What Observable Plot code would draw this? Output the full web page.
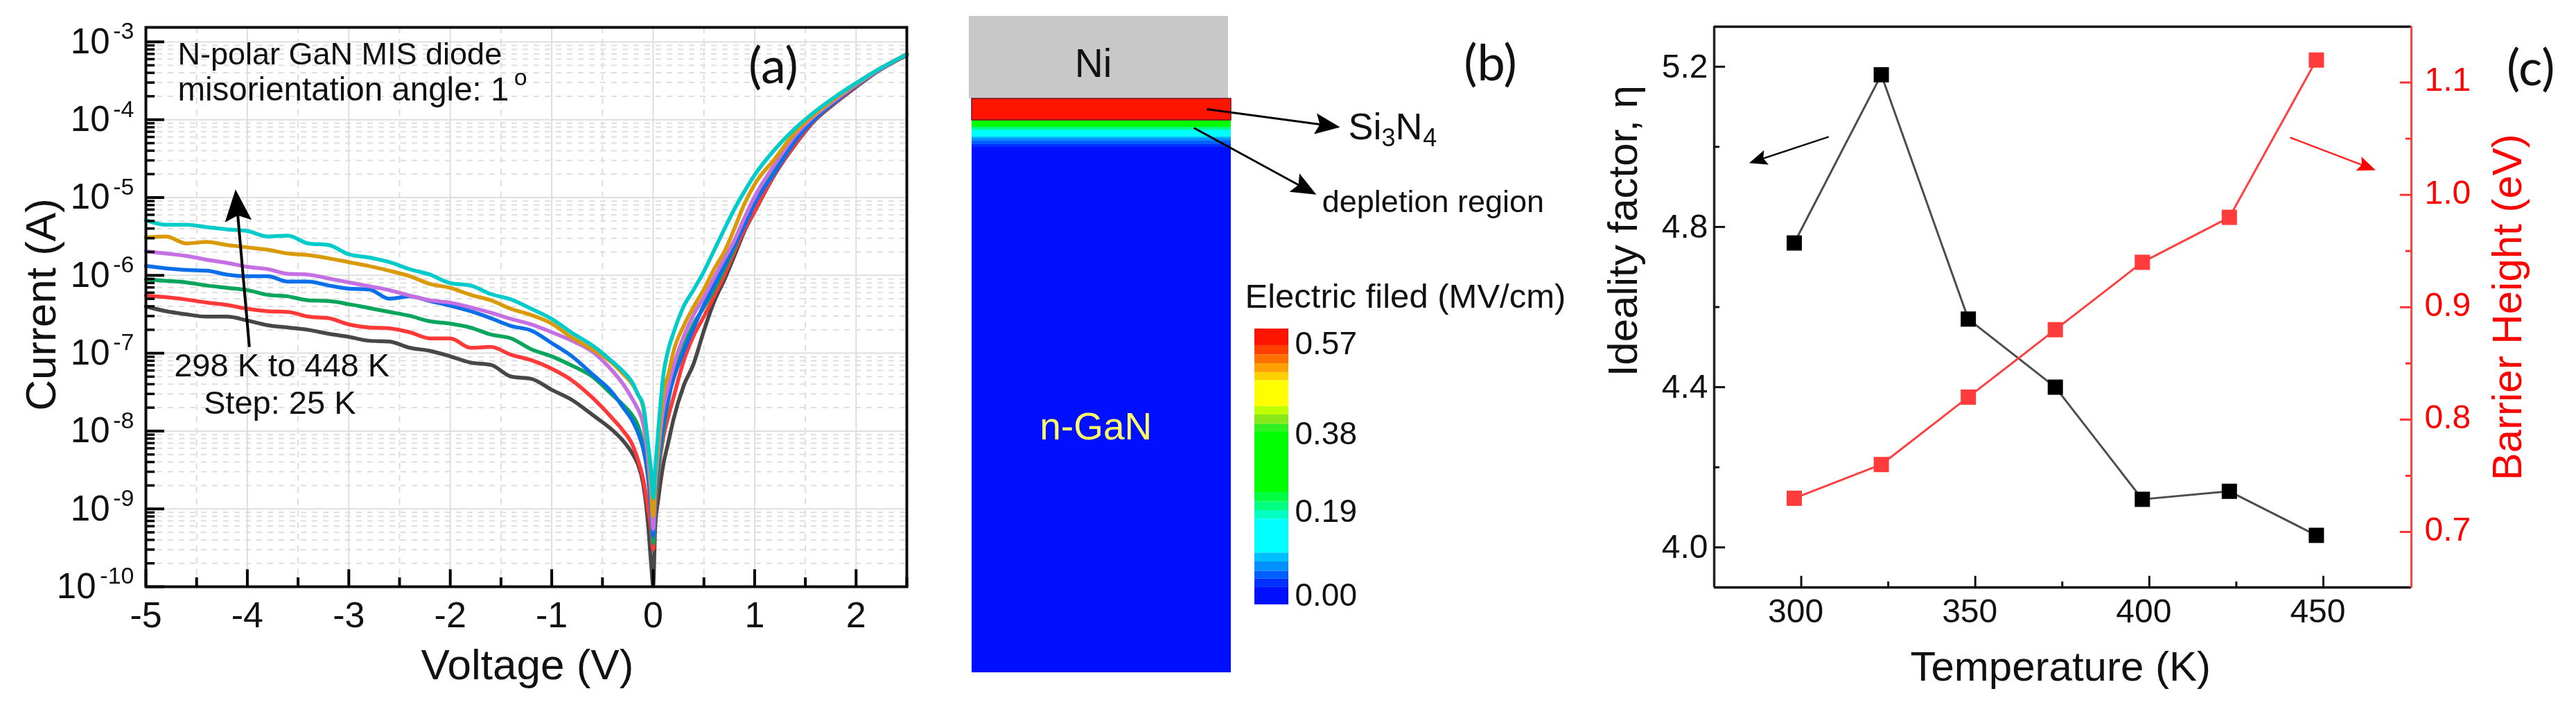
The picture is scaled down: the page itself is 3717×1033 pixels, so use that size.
<!DOCTYPE html>
<html><head><meta charset="utf-8">
<script src="https://cdn.jsdelivr.net/npm/d3@7"></script>
<script src="https://cdn.jsdelivr.net/npm/@observablehq/plot@0.6"></script>
<style>html,body{margin:0;background:#fff}#page{position:relative;width:3717px;height:1033px;overflow:hidden;background:#fff}</style>
</head><body><div id="page"></div>
<script>
// ---------- (a) I-V curves: voltage (V) and log10 of current (A)
const voltage = [-5,-4.8,-4.6,-4.4,-4.2,-4,-3.8,-3.6,-3.4,-3.2,-3,-2.8,-2.6,-2.4,-2.2,-2,-1.8,-1.6,-1.4,-1.2,-1,-0.8,-0.6,-0.4,-0.3,-0.2,-0.15,-0.1,-0.05,-0.02,0,0.02,0.05,0.1,0.15,0.2,0.3,0.4,0.5,0.6,0.7,0.8,0.9,1,1.2,1.4,1.6,1.8,2,2.2,2.5];
const log298 = [-6.40,-6.46,-6.50,-6.53,-6.53,-6.58,-6.64,-6.67,-6.70,-6.75,-6.79,-6.84,-6.85,-6.93,-6.97,-7.04,-7.12,-7.15,-7.30,-7.33,-7.47,-7.60,-7.79,-7.99,-8.12,-8.30,-8.43,-8.67,-9.20,-9.71,-9.99,-9.23,-8.88,-8.43,-8.14,-7.85,-7.42,-7.13,-6.71,-6.34,-6.06,-5.75,-5.43,-5.18,-4.70,-4.32,-4.00,-3.78,-3.58,-3.39,-3.17];
const log323 = [-6.26,-6.28,-6.31,-6.35,-6.38,-6.43,-6.46,-6.47,-6.53,-6.55,-6.63,-6.67,-6.68,-6.73,-6.81,-6.81,-6.93,-6.92,-7.02,-7.09,-7.20,-7.35,-7.57,-7.84,-7.99,-8.19,-8.37,-8.61,-9.00,-9.26,-9.52,-9.00,-8.55,-8.08,-7.81,-7.57,-7.10,-6.77,-6.53,-6.27,-6.00,-5.70,-5.41,-5.17,-4.69,-4.31,-3.99,-3.77,-3.57,-3.38,-3.16];
const log348 = [-6.05,-6.07,-6.09,-6.13,-6.16,-6.19,-6.25,-6.27,-6.32,-6.33,-6.37,-6.42,-6.47,-6.52,-6.59,-6.62,-6.67,-6.76,-6.81,-6.95,-7.04,-7.16,-7.30,-7.54,-7.66,-7.81,-7.93,-8.17,-8.61,-9.03,-9.44,-8.91,-8.49,-7.99,-7.60,-7.30,-6.92,-6.62,-6.41,-6.18,-5.92,-5.65,-5.32,-5.05,-4.62,-4.23,-3.96,-3.75,-3.56,-3.38,-3.16];
const log373 = [-5.88,-5.91,-5.93,-5.94,-5.99,-6.01,-6.01,-6.08,-6.08,-6.13,-6.17,-6.18,-6.30,-6.27,-6.33,-6.39,-6.46,-6.55,-6.65,-6.71,-6.87,-7.04,-7.27,-7.51,-7.69,-7.88,-8.02,-8.22,-8.58,-8.97,-9.35,-8.82,-8.40,-7.93,-7.57,-7.33,-6.98,-6.67,-6.38,-6.13,-5.88,-5.62,-5.36,-5.08,-4.67,-4.27,-3.98,-3.76,-3.56,-3.38,-3.16];
const log398 = [-5.69,-5.72,-5.75,-5.80,-5.84,-5.89,-5.92,-5.98,-5.99,-6.04,-6.09,-6.14,-6.19,-6.26,-6.32,-6.35,-6.41,-6.48,-6.56,-6.63,-6.73,-6.84,-6.98,-7.23,-7.39,-7.60,-7.72,-7.90,-8.37,-8.82,-9.26,-8.73,-8.28,-7.72,-7.42,-7.17,-6.79,-6.50,-6.28,-6.03,-5.79,-5.55,-5.26,-4.99,-4.57,-4.20,-3.94,-3.74,-3.55,-3.38,-3.16];
const log423 = [-5.51,-5.50,-5.59,-5.57,-5.61,-5.64,-5.67,-5.72,-5.74,-5.78,-5.83,-5.88,-5.94,-6.01,-6.11,-6.16,-6.25,-6.32,-6.43,-6.51,-6.62,-6.80,-6.95,-7.13,-7.26,-7.41,-7.53,-7.69,-8.22,-8.67,-9.09,-8.64,-8.19,-7.51,-7.27,-6.98,-6.65,-6.40,-6.18,-5.92,-5.70,-5.40,-5.08,-4.83,-4.50,-4.16,-3.92,-3.72,-3.54,-3.37,-3.16];
const log448 = [-5.29,-5.35,-5.35,-5.38,-5.41,-5.43,-5.50,-5.49,-5.59,-5.61,-5.73,-5.77,-5.83,-5.92,-5.99,-6.10,-6.13,-6.24,-6.31,-6.43,-6.56,-6.74,-6.90,-7.11,-7.23,-7.39,-7.53,-7.66,-8.17,-8.52,-8.86,-8.49,-7.99,-7.28,-6.95,-6.74,-6.40,-6.18,-5.95,-5.68,-5.41,-5.15,-4.92,-4.71,-4.38,-4.11,-3.89,-3.70,-3.53,-3.37,-3.16];
const curveNames = ["298 K","323 K","348 K","373 K","398 K","423 K","448 K"];
const curveLogs = [log298,log323,log348,log373,log398,log423,log448];
const curveColors = ["#474747","#ff3838","#0aa55c","#0a6fe8","#c46fe2","#d99a06","#00cbcb"];
const voltTicks = [-5,-4,-3,-2,-1,0,1,2];
const voltMinor = [-4.5,-3.5,-2.5,-1.5,-0.5,0.5,1.5,2.5];
const decadeExps = [-3,-4,-5,-6,-7,-8,-9,-10];

// ---------- (b) device cross-section: depth (nm) and field (MV/cm)
const fieldEdges = [0.019,0.038,0.056,0.077,0.097,0.174,0.193,0.213,0.234,0.372,0.389,0.410,0.429,0.488,0.506,0.526,0.546,0.567];
const fieldColors = ["#0010ff","#0030ff","#0060ff","#0090ff","#00c0ff","#00ffff","#00ffc0","#00ff80","#00ff40","#00ff00","#30f020","#88e818","#c0ff00","#ffff00","#ffd000","#ffa000","#ff7000","#ff4000","#ff1400"];
const barBottoms = [-0.0204,0.019,0.038,0.056,0.077,0.097,0.174,0.193,0.213,0.234,0.372,0.389,0.410,0.429,0.488,0.506,0.526,0.546,0.567];
const barTops = [0.019,0.038,0.056,0.077,0.097,0.174,0.193,0.213,0.234,0.372,0.389,0.410,0.429,0.488,0.506,0.526,0.546,0.567,0.6046];
const barLabels = ["0.00","0.19","0.38","0.57"];
const barLabelAt = [0,0.19,0.367,0.57];
const layerTop = [119,150,160,163,165,174,176,180,185,189];
const layerBottom = [150,160,163,165,174,176,180,185,189,947];
const layerField = [0.59,0.30,0.20,0.18,0.13,0.09,0.065,0.045,0.03,0];

// ---------- (c) ideality factor and barrier height vs temperature
const temperature = [298,323,348,373,398,423,448];
const ideality = [4.76,5.18,4.57,4.40,4.12,4.14,4.03];
const barrier = [0.73,0.76,0.82,0.88,0.94,0.98,1.12];

const FONT = "'Liberation Sans', Arial, sans-serif";
const page = document.getElementById("page");
function place(svg, left, top=0){
  svg.style.position="absolute"; svg.style.left=left+"px"; svg.style.top=top+"px";
  svg.style.maxWidth="none"; svg.style.background="transparent"; svg.style.filter="blur(0.6px)";
  page.appendChild(svg);
}
const style = {fontFamily:FONT, background:"transparent", overflow:"visible"};
const arrowHead = {draw(ctx,size){const s=Math.sqrt(size);
  ctx.moveTo(0,-0.6*s); ctx.lineTo(0.42*s,0.4*s); ctx.lineTo(0,0.22*s); ctx.lineTo(-0.42*s,0.4*s); ctx.closePath();}};
const rOf = len => len/Math.sqrt(Math.PI);

// ========== panel (a)
{
  const rows = curveNames.flatMap((name,i)=>voltage.map((v,j)=>({name,i,v,I:10**curveLogs[i][j]})));
  const decades = decadeExps.map(e=>({e,I:10**e}));
  const minors = d3.range(-10,-3).flatMap(e=>[2,3,4,5,6,7,8,9].map(m=>m*10**e));
  const grey="#dedede";
  const T=(text,V,logI,opts={})=>Plot.text([{text,V,I:10**logI}],{x:"V",y:"I",text:"text",fontSize:47,fill:"#111",...opts});
  const svg = Plot.plot({
    width:1400,height:1033,marginLeft:210,marginRight:92,marginTop:39,marginBottom:187,style,
    x:{domain:[-5,2.5],axis:null},
    y:{type:"log",domain:[1e-10,10**-2.814],axis:null},
    marks:[
      Plot.ruleY(minors,{stroke:grey,strokeWidth:2,strokeDasharray:"8 8"}),
      Plot.ruleX(voltMinor,{stroke:grey,strokeWidth:2,strokeDasharray:"9 8"}),
      Plot.ruleY(decades,{y:"I",stroke:grey,strokeWidth:2}),
      Plot.ruleX(voltTicks,{stroke:grey,strokeWidth:2}),
      ...curveNames.map((n,i)=>Plot.line(rows.filter(d=>d.name===n),{x:"v",y:"I",stroke:curveColors[i],strokeWidth:5.5,strokeLinejoin:"round",curve:"monotone-x"})),
      // inward ticks
      Plot.ruleY(minors,{x1:-5,x2:-4.91,stroke:"#000",strokeWidth:3.5}),
      Plot.ruleY(decades,{y:"I",x1:-5,x2:-4.816,stroke:"#000",strokeWidth:4}),
      Plot.ruleX(voltTicks,{y1:1e-10,y2:10**-9.78,stroke:"#000",strokeWidth:4}),
      Plot.ruleX(voltMinor,{y1:1e-10,y2:10**-9.884,stroke:"#000",strokeWidth:4}),
      Plot.frame({stroke:"#0a0a0a",strokeWidth:4}),
      Plot.axisX({ticks:voltTicks,tickSize:0,tickPadding:22,fontSize:52,tickFormat:d=>String(d),label:null,fill:"#111"}),
      // y tick labels: 10 with a raised exponent
      Plot.text(decades.filter(d=>d.e>-10),{x:()=>-5,y:"I",text:()=>"10",textAnchor:"end",dx:-52,fontSize:51,fill:"#111"}),
      Plot.text(decades.filter(d=>d.e===-10),{x:()=>-5,y:"I",text:()=>"10",textAnchor:"end",dx:-72,fontSize:51,fill:"#111"}),
      Plot.text(decades,{x:()=>-5,y:"I",text:d=>String(d.e),textAnchor:"end",dx:-17,dy:-15,fontSize:34,fill:"#111"}),
      Plot.text([{t:"Voltage (V)",V:-1.24}],{x:"V",text:"t",frameAnchor:"bottom",lineAnchor:"middle",dy:114,fontSize:62,fill:"#111"}),
      Plot.text([{t:"Current (A)",I:10**-6.376}],{y:"I",text:"t",frameAnchor:"left",dx:-150,rotate:-90,textAnchor:"middle",fontSize:62,fill:"#111"}),
      T("N-polar GaN MIS diode",-4.686,-3.16,{textAnchor:"start",fontSize:45}),
      T("misorientation angle: 1",-4.686,-3.62,{textAnchor:"start",fontSize:47.5}),
      T("o",-1.307,-3.46,{fontSize:34}),
      T("(a)",1.184,-3.33,{fontFamily:"Lato",fontSize:72}),
      T("298 K to 448 K",-3.66,-7.16),
      T("Step: 25 K",-3.68,-7.64),
      Plot.link([{V1:-3.98,E1:10**-6.92,V2:-4.10,E2:10**-5.14}],{x1:"V1",y1:"E1",x2:"V2",y2:"E2",stroke:"#000",strokeWidth:4}),
      Plot.dot([{V:-4.10,I:10**-5.14}],{x:"V",y:"I",symbol:arrowHead,r:rOf(46),rotate:-5,fill:"#000",stroke:"none"})
    ]});
  place(svg,0);
}

// ========== panel (b) device
{
  const layers = layerTop.map((t,i)=>({t,b:layerBottom[i],f:layerField[i]}));
  const L=(text,u,d,opts={})=>Plot.text([{text,u,d}],{x:"u",y:"d",text:"text",fontSize:45,fill:"#111",...opts});
  const ah=(u1,d1,u2,d2,rot)=>[
    Plot.link([{u1,d1,u2,d2}],{x1:"u1",y1:"d1",x2:"u2",y2:"d2",stroke:"#000",strokeWidth:3}),
    Plot.dot([{u:u2,d:d2}],{x:"u",y:"d",symbol:arrowHead,r:rOf(36),rotate:rot,fill:"#000",stroke:"none"})];
  const svg = Plot.plot({
    width:960,height:1033,marginLeft:62,marginRight:524,marginTop:23,marginBottom:63,style,
    x:{domain:[0,1],axis:null}, y:{domain:[0,947],axis:null,reverse:false,range:[23,970]},
    color:{type:"threshold",domain:fieldEdges,range:fieldColors},
    marks:[
      Plot.rect([{u1:-0.011,u2:0.989,t:0,b:119}],{x1:"u1",x2:"u2",y1:"t",y2:"b",fill:"#c8c8c8"}),
      Plot.rect(layers,{x1:()=>0,x2:()=>1,y1:"t",y2:"b",fill:"f"}),
      Plot.rect([{t:119,b:150}],{x1:()=>0,x2:()=>1,y1:"t",y2:"b",fill:"none",stroke:"#7a1030",strokeWidth:1.5}),
      L("Ni",0.468,69,{fontSize:57}),
      L("n-GaN",0.478,593,{fontSize:55,fill:"#ffff66"}),
      L("Si",1.452,160,{fontSize:54,textAnchor:"start"}),
      L("3",1.58,176,{fontSize:36,textAnchor:"start"}),
      L("N",1.634,160,{fontSize:54,textAnchor:"start"}),
      L("4",1.74,176,{fontSize:36,textAnchor:"start"}),
      L("depletion region",1.351,268,{textAnchor:"start"}),
      L("(b)",2.0,69,{fontFamily:"Lato",fontSize:72}),
      ...ah(0.906,134,1.363,157,97.7),
      ...ah(0.856,161,1.278,247,118.7)
    ]});
  place(svg,1340);
}

// ========== panel (b) colour bar
{
  const bands = barBottoms.map((b,i)=>({b,t:barTops[i]}));
  const labels = barLabels.map((l,i)=>({l,f:barLabelAt[i]}));
  const svg = Plot.plot({
    width:500,height:1033,marginLeft:20,marginRight:431,marginTop:474,marginBottom:161,style,
    x:{domain:[0,1],axis:null}, y:{domain:[-0.0204,0.6046],axis:null},
    color:{type:"threshold",domain:fieldEdges,range:fieldColors},
    marks:[
      Plot.rect(bands,{x1:()=>0,x2:()=>1,y1:"b",y2:"t",fill:d=>(d.b+d.t)/2}),
      Plot.text(labels,{x:()=>1,y:"f",text:"l",textAnchor:"start",dx:9,fontSize:46,fill:"#111"}),
      Plot.text([{t:"Electric filed (MV/cm)",u:-0.286,f:0.677}],{x:"u",y:"f",text:"t",textAnchor:"start",fontSize:49,fill:"#111"})
    ]});
  place(svg,1790);
}

// ========== panel (c)
{
  const rows = temperature.map((T,i)=>({T,n:ideality[i],b:barrier[i]}));
  const X={domain:[275,475.3],axis:null};
  const common={width:1417,height:1033,marginLeft:173,marginRight:238,style};
  const left = Plot.plot({...common,marginTop:38,marginBottom:186,x:X,y:{domain:[3.9,5.3],axis:null},marks:[
    Plot.ruleY([5.3,3.9],{stroke:"#0a0a0a",strokeWidth:3.5}),
    Plot.ruleX([275],{stroke:"#222",strokeWidth:3.5}),
    Plot.ruleY([4,4.4,4.8,5.2],{x1:()=>275,x2:()=>278.2,stroke:"#111",strokeWidth:3}),
    Plot.ruleY([4.2,4.6,5],{x1:()=>275,x2:()=>276.6,stroke:"#111",strokeWidth:3}),
    Plot.ruleX([300,350,400,450],{y1:()=>3.9,y2:()=>3.928,stroke:"#111",strokeWidth:3}),
    Plot.ruleX([325,375,425],{y1:()=>3.9,y2:()=>3.914,stroke:"#111",strokeWidth:3}),
    Plot.line(rows,{x:"T",y:"n",stroke:"#4d4d4d",strokeWidth:3}),
    Plot.dot(rows,{x:"T",y:"n",symbol:"square",r:rOf(22)*1,fill:"#000",stroke:"none"}),
    Plot.axisX({ticks:[300,350,400,450],tickSize:0,tickPadding:16,fontSize:48,label:null,dx:-8,fill:"#111"}),
    Plot.axisY({ticks:[4,4.4,4.8,5.2],tickSize:0,tickPadding:9,fontSize:48,tickFormat:d3.format(".1f"),label:null,fill:"#111"}),
    Plot.text([{t:"Temperature (K)",T:374.5}],{x:"T",text:"t",frameAnchor:"bottom",lineAnchor:"middle",dy:115,fontSize:60,fill:"#111"}),
    Plot.text([{t:"Ideality factor, η",n:4.79}],{y:"n",text:"t",frameAnchor:"left",dx:-131,rotate:-90,textAnchor:"middle",fontSize:60,fill:"#111"}),
    Plot.link([{a:307.9,b:5.025,c:288,d:4.968}],{x1:"a",y1:"b",x2:"c",y2:"d",stroke:"#111",strokeWidth:2.5}),
    Plot.dot([{T:288,n:4.968}],{x:"T",y:"n",symbol:arrowHead,r:rOf(26),rotate:-108,fill:"#000",stroke:"none"})
  ]});
  place(left,2300);
  const right = Plot.plot({...common,marginTop:37.5,marginBottom:185,x:X,y:{domain:[0.65,1.15],axis:null},marks:[
    Plot.ruleX([475.3],{stroke:"#ff4444",strokeWidth:3}),
    Plot.ruleY([0.7,0.8,0.9,1,1.1],{x1:()=>475.3,x2:()=>472.1,stroke:"#ff3030",strokeWidth:3}),
    Plot.ruleY([0.75,0.85,0.95,1.05],{x1:()=>475.3,x2:()=>473.7,stroke:"#ff3030",strokeWidth:3}),
    Plot.line(rows,{x:"T",y:"b",stroke:"#ff4040",strokeWidth:3}),
    Plot.dot(rows,{x:"T",y:"b",symbol:"square",r:rOf(22),fill:"#ff3b3b",stroke:"none"}),
    Plot.axisY({anchor:"right",ticks:[0.7,0.8,0.9,1,1.1],tickSize:0,tickPadding:19,fontSize:48,tickFormat:d3.format(".1f"),label:null,fill:"#f00",dy:-3}),
    Plot.text([{t:"Barrier Height (eV)",b:0.9}],{y:"b",text:"t",frameAnchor:"right",dx:139,rotate:-90,textAnchor:"middle",fontSize:60,fill:"#f00"}),
    Plot.text([{t:"(c)",T:509.6,b:1.112}],{x:"T",y:"b",text:"t",fontFamily:"Lato",fontSize:72,fill:"#111"}),
    Plot.link([{a:440.5,b:1.051,c:462.1,d:1.0255}],{x1:"a",y1:"b",x2:"c",y2:"d",stroke:"#ff2020",strokeWidth:2.5}),
    Plot.dot([{T:462.1,b:1.0255}],{x:"T",y:"b",symbol:arrowHead,r:rOf(26),rotate:111,fill:"#f00",stroke:"none"})
  ]});
  place(right,2300);
}
</script></body></html>
